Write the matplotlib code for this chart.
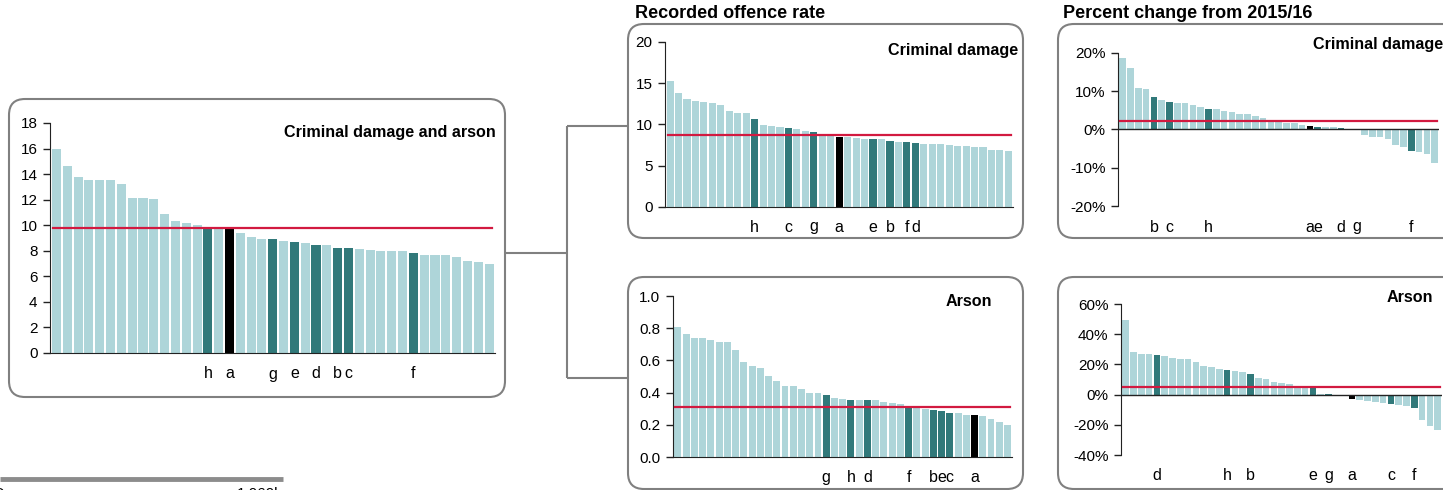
import matplotlib
matplotlib.use('Agg')
import matplotlib.pyplot as plt
from matplotlib.patches import FancyBboxPatch
from matplotlib.lines import Line2D
from matplotlib.ticker import FuncFormatter, MultipleLocator
import matplotlib.transforms as mtransforms

plt.rcParams['font.family'] = ['Liberation Sans', 'DejaVu Sans']

# Criminal damage and arson, rate per 1,000 (sorted)
cda_vals = [16.0, 14.6, 13.75, 13.55, 13.5, 13.5, 13.2, 12.15, 12.1, 12.05,
            10.9, 10.3, 10.2, 10.05, 9.8, 9.75, 9.75, 9.4, 9.05, 8.95,
            8.9, 8.8, 8.7, 8.6, 8.45, 8.45, 8.25, 8.2, 8.1, 8.05,
            8.0, 8.0, 8.0, 7.85, 7.65, 7.65, 7.65, 7.55, 7.2, 7.1, 6.95]
cda_marks = {'h': 14, 'a': 16, 'g': 20, 'e': 22, 'd': 24, 'b': 26, 'c': 27, 'f': 33}
cda_avg = 9.76

# Criminal damage rate
cd_vals = [15.27, 13.86, 13.09, 12.85, 12.69, 12.65, 12.4, 11.64, 11.43, 11.43,
           10.63, 9.9, 9.86, 9.7, 9.54, 9.45, 9.21, 9.09, 8.77, 8.65,
           8.53, 8.53, 8.4, 8.28, 8.24, 8.2, 8.04, 7.92, 7.88, 7.76,
           7.68, 7.68, 7.64, 7.52, 7.43, 7.39, 7.31, 7.27, 6.91, 6.87, 6.75]
cd_marks = {'h': 10, 'c': 14, 'g': 17, 'a': 20, 'e': 24, 'b': 26, 'f': 28, 'd': 29}
cd_avg = 8.69

# Arson rate
ar_vals = [0.805, 0.763, 0.741, 0.741, 0.726, 0.714, 0.712, 0.664, 0.593, 0.564,
           0.554, 0.506, 0.475, 0.444, 0.438, 0.421, 0.400, 0.400, 0.384, 0.367,
           0.361, 0.357, 0.351, 0.351, 0.351, 0.340, 0.334, 0.328, 0.315, 0.311,
           0.299, 0.290, 0.286, 0.276, 0.276, 0.261, 0.259, 0.255, 0.237, 0.216, 0.197]
ar_marks = {'g': 18, 'h': 21, 'd': 23, 'f': 28, 'b': 31, 'e': 32, 'c': 33, 'a': 36}
ar_avg = 0.313

# Percent change from 2015/16, criminal damage
cdp_vals = [18.6, 16.05, 10.8, 10.5, 8.4, 7.6, 7.2, 6.85, 6.85, 6.3,
            5.8, 5.45, 5.35, 4.8, 4.7, 4.1, 3.95, 3.6, 2.9, 2.6,
            2.0, 1.65, 1.65, 1.05, 0.8, 0.6, 0.6, 0.6, 0.5, 0.15,
            0.05, -1.4, -1.85, -1.95, -2.45, -3.95, -4.65, -5.6, -5.95, -6.5, -8.8]
cdp_marks = {'b': 4, 'c': 6, 'h': 11, 'a': 24, 'e': 25, 'd': 28, 'g': 30, 'f': 37}
cdp_avg = 2.2

# Percent change from 2015/16, arson
arp_vals = [49.6, 28.0, 27.1, 26.9, 26.0, 25.8, 24.2, 23.8, 23.6, 21.6,
            19.1, 18.0, 17.1, 16.2, 15.6, 14.9, 13.6, 10.7, 10.4, 8.4,
            7.6, 6.9, 5.6, 4.9, 4.2, 0.2, 0.1, -0.1, -0.9, -2.7,
            -3.8, -4.4, -4.7, -5.6, -6.2, -6.9, -7.6, -8.7, -16.9, -21.1, -23.3]
arp_marks = {'d': 4, 'h': 13, 'b': 16, 'e': 24, 'g': 26, 'a': 29, 'c': 34, 'f': 37}
arp_avg = 5.3

LIGHT = '#AED5D9'
DARK = '#31797A'
RED = '#D21A40'
GREY = '#808080'
FS = 11
TFS = 11.6

W, H = 1443, 490
fig = plt.figure(figsize=(W / 100, H / 100), dpi=100)
pix = mtransforms.IdentityTransform()


def add_ax(x0, x1, ytop, ybot):
    return fig.add_axes([x0 / W, 1 - ybot / H, (x1 - x0) / W, (ybot - ytop) / H])


def box(x0, x1, ytop, ybot):
    p = FancyBboxPatch((x0, H - ybot), x1 - x0, ybot - ytop,
                       boxstyle='round,pad=0,rounding_size=16',
                       transform=pix, fill=False, edgecolor=GREY, linewidth=1.5)
    fig.add_artist(p)


def line(xs, ys, lw=1.5, color=GREY):
    fig.add_artist(Line2D(xs, [H - y for y in ys], transform=pix, color=color, linewidth=lw,
                          solid_capstyle='butt'))


def bar_panel(ax, vals, marks, avg, ylim, step, fmt, label_y, zero_line=False):
    n = len(vals)
    colors = [LIGHT] * n
    for k, i in marks.items():
        colors[i] = 'black' if k == 'a' else DARK
    ax.bar(range(n), vals, width=0.84, color=colors, zorder=2)
    ax.plot([-0.3, n - 0.7], [avg, avg], color=RED, linewidth=1.6, zorder=3)
    ax.set_xlim(-0.6, n - 0.45)
    ax.set_ylim(*ylim)
    ax.yaxis.set_major_locator(MultipleLocator(step))
    ax.yaxis.set_major_formatter(FuncFormatter(fmt))
    ax.set_xticks([])
    for s in ['top', 'right']:
        ax.spines[s].set_visible(False)
    ax.spines['left'].set_color('#222222')
    ax.spines['bottom'].set_color('#222222')
    if zero_line:
        ax.spines['bottom'].set_visible(False)
        ax.axhline(0, color='#222222', linewidth=1.0, zorder=4)
    ax.tick_params(axis='y', length=5, width=1, direction='out', labelsize=FS, pad=4,
                   color='#222222')
    ax.patch.set_alpha(0)
    trans = mtransforms.blended_transform_factory(ax.transData, ax.transAxes)
    for k, i in marks.items():
        ax.text(i, label_y, k, transform=trans, ha='center', va='center', fontsize=FS + 0.5)


# boxes and connectors
box(9, 505, 99, 397)
box(628, 1023, 24, 238)
box(628, 1023, 277, 489)
box(1058, 1470, 24, 238)
box(1058, 1470, 277, 489)
line([505, 567], [253, 253])
line([567, 567], [126, 378])
line([567, 628], [126, 126])
line([567, 628], [378, 378])

# left panel
ax = add_ax(50, 495, 123, 353)
bar_panel(ax, cda_vals, cda_marks, cda_avg, (0, 18), 2, lambda v, p: f'{v:.0f}', -21 / 230)
fig.text(496 / W, 1 - 133 / H, 'Criminal damage and arson', ha='right', va='center',
         fontsize=TFS, fontweight='bold')

# middle top
ax = add_ax(665, 1013, 42, 207)
bar_panel(ax, cd_vals, cd_marks, cd_avg, (0, 20), 5, lambda v, p: f'{v:.0f}', -20 / 165)
fig.text(1018 / W, 1 - 50 / H, 'Criminal damage', ha='right', va='center',
         fontsize=TFS, fontweight='bold')

# middle bottom
ax = add_ax(673, 1012, 296, 457)
bar_panel(ax, ar_vals, ar_marks, ar_avg, (0, 1.0), 0.2, lambda v, p: f'{v:.1f}', -20 / 161)
fig.text(992 / W, 1 - 302 / H, 'Arson', ha='right', va='center',
         fontsize=TFS, fontweight='bold')

# right top
ax = add_ax(1118, 1439, 53, 206)
bar_panel(ax, cdp_vals, cdp_marks, cdp_avg, (-20, 20), 10, lambda v, p: f'{v:.0f}%',
          -21 / 153, zero_line=True)
fig.text(1313 / W, 1 - 45 / H, 'Criminal damage', ha='left', va='center',
         fontsize=TFS, fontweight='bold')

# right bottom
ax = add_ax(1121, 1442, 304, 455)
bar_panel(ax, arp_vals, arp_marks, arp_avg, (-40, 60), 20, lambda v, p: f'{v:.0f}%',
          -20 / 151, zero_line=True)
fig.text(1433 / W, 1 - 297 / H, 'Arson', ha='right', va='center',
         fontsize=TFS, fontweight='bold')

# headers
fig.text(635 / W, 1 - 14 / H, 'Recorded offence rate', ha='left', va='center',
         fontsize=13, fontweight='bold')
fig.text(1063 / W, 1 - 14 / H, 'Percent change from 2015/16', ha='left', va='center',
         fontsize=13, fontweight='bold')

# cut-off table row at bottom left
line([0, 283], [479, 479], lw=3.5, color='#8C8C8C')
fig.text(283 / W, 1 - 487 / H, '1,060k', ha='right', va='top', fontsize=FS)
fig.text(-8 / W, 1 - 487 / H, 'Gap', ha='left', va='top', fontsize=FS)

fig.savefig('out.png', dpi=100)
